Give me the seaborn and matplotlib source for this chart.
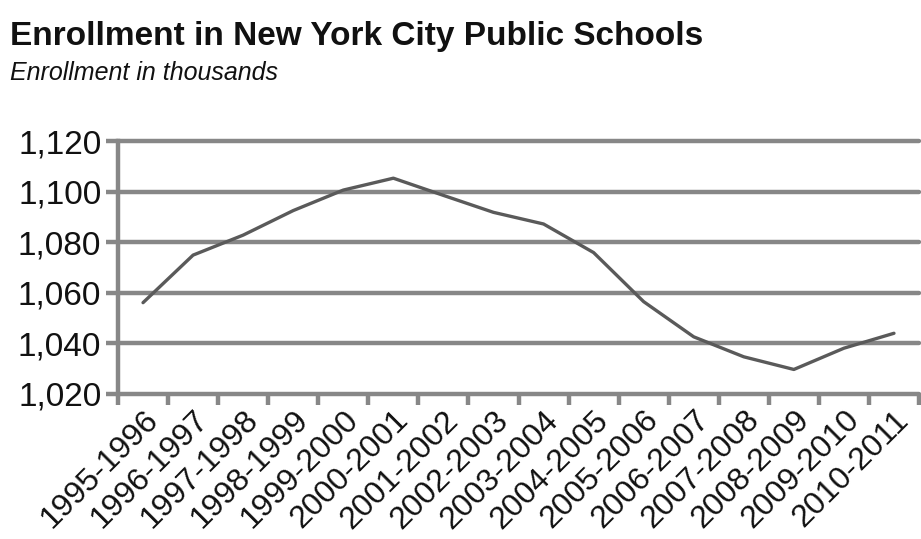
import matplotlib
matplotlib.use("Agg")
import matplotlib.pyplot as plt
import seaborn as sns
import numpy as np
import pandas as pd

years = ["1995-1996", "1996-1997", "1997-1998", "1998-1999", "1999-2000",
         "2000-2001", "2001-2002", "2002-2003", "2003-2004", "2004-2005",
         "2005-2006", "2006-2007", "2007-2008", "2008-2009", "2009-2010",
         "2010-2011"]
enrollment = [1056.1, 1074.9, 1082.8, 1092.5, 1100.6, 1105.3, 1098.5, 1091.8,
              1087.2, 1075.9, 1056.5, 1042.6, 1034.7, 1029.7, 1038.1, 1044.0]
y_ticks = [1020, 1040, 1060, 1080, 1100, 1120]

df = pd.DataFrame({"idx": np.arange(len(years)), "year": years, "enroll": enrollment})

sns.set_style("white")
plt.rcParams["font.family"] = ["Liberation Sans", "DejaVu Sans"]

W, H = 921, 539
fig = plt.figure(figsize=(W / 100, H / 100), dpi=100)
ax = fig.add_axes([118 / W, 1 - 394 / H, (919 - 118) / W, (394 - 141) / H])

grid_c = "#878787"
ax.set_ylim(1020, 1120)
ax.set_xlim(-0.5, len(years) - 0.5)
for v in y_ticks:
    ax.axhline(v, color=grid_c, lw=3.2, zorder=1, clip_on=False)

sns.lineplot(data=df, x="idx", y="enroll", ax=ax, color="#5a5a5a", lw=2.4, zorder=3)

for s in ["top", "right"]:
    ax.spines[s].set_visible(False)
ax.spines["left"].set_color(grid_c)
ax.spines["left"].set_linewidth(3.2)
ax.spines["bottom"].set_visible(False)

ax.set_yticks(y_ticks)
ax.set_yticklabels([f"{v:,}" for v in y_ticks], fontsize=24, color="#111111")
ax.tick_params(axis="y", length=9, width=3.2, color=grid_c, pad=3, left=True)

# boundaries for tick marks, labels at centers
ax.set_xticks(np.arange(len(years)))
ax.set_xticklabels(years, rotation=45, ha="right", rotation_mode="anchor",
                   fontsize=23, color="#111111")
ax.tick_params(axis="x", length=0, pad=8)
ax.set_xticks(np.arange(-0.5, len(years)), minor=True)
ax.tick_params(axis="x", which="minor", length=8, width=3.2, color=grid_c, bottom=True)
ax.set_xlabel("")
ax.set_ylabel("")

fig.text(10 / W, 1 - 45 / H, "Enrollment in New York City Public Schools",
         fontsize=24, fontweight="bold", color="#111111", family=["Liberation Sans"])
fig.text(10 / W, 1 - 80 / H, "Enrollment in thousands",
         fontsize=18, style="italic", color="#111111", family=["Liberation Sans"])

fig.savefig("out.png", dpi=100, facecolor="white")
